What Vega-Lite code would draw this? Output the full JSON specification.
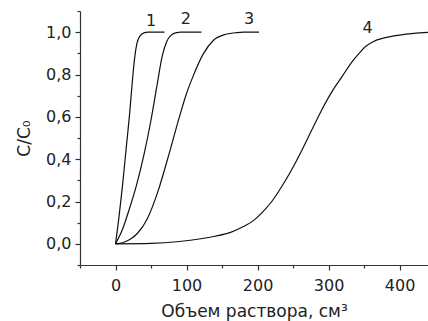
{
  "$schema": "https://vega.github.io/schema/vega-lite/v6.json",
  "width": 348,
  "height": 254,
  "autosize": "none",
  "padding": {"left": 80, "top": 11, "right": 0, "bottom": 56},
  "background": "white",
  "config": {
    "view": {"stroke": null},
    "font": "DejaVu Sans",
    "axis": {
      "domainColor": "#333333",
      "tickColor": "#333333",
      "labelColor": "#222222",
      "titleColor": "#222222",
      "labelFont": "DejaVu Sans",
      "titleFont": "DejaVu Sans",
      "labelFontSize": 16,
      "titleFontSize": 17,
      "titleFontWeight": "normal",
      "grid": false,
      "domainWidth": 1.2,
      "tickWidth": 1.2
    }
  },
  "datasets": {
    "curves": [
      {"s": "1", "v": 0, "c": 0},
      {"s": "1", "v": 5, "c": 0.13},
      {"s": "1", "v": 10, "c": 0.28},
      {"s": "1", "v": 15, "c": 0.45},
      {"s": "1", "v": 20, "c": 0.62},
      {"s": "1", "v": 24, "c": 0.78},
      {"s": "1", "v": 27, "c": 0.88},
      {"s": "1", "v": 30, "c": 0.945},
      {"s": "1", "v": 34, "c": 0.98},
      {"s": "1", "v": 40, "c": 0.997},
      {"s": "1", "v": 46, "c": 1.0},
      {"s": "1", "v": 69, "c": 1.0},
      {"s": "2", "v": 0, "c": 0},
      {"s": "2", "v": 10, "c": 0.07},
      {"s": "2", "v": 20, "c": 0.17},
      {"s": "2", "v": 29, "c": 0.27},
      {"s": "2", "v": 40, "c": 0.42},
      {"s": "2", "v": 50, "c": 0.585},
      {"s": "2", "v": 58, "c": 0.74},
      {"s": "2", "v": 66, "c": 0.89},
      {"s": "2", "v": 72, "c": 0.955},
      {"s": "2", "v": 78, "c": 0.985},
      {"s": "2", "v": 86, "c": 0.998},
      {"s": "2", "v": 92, "c": 1.0},
      {"s": "2", "v": 121, "c": 1.0},
      {"s": "3", "v": 0, "c": 0},
      {"s": "3", "v": 10, "c": 0.005},
      {"s": "3", "v": 20, "c": 0.02},
      {"s": "3", "v": 31, "c": 0.05},
      {"s": "3", "v": 45, "c": 0.12},
      {"s": "3", "v": 60, "c": 0.25},
      {"s": "3", "v": 75, "c": 0.42},
      {"s": "3", "v": 90, "c": 0.6},
      {"s": "3", "v": 100, "c": 0.71},
      {"s": "3", "v": 109, "c": 0.79},
      {"s": "3", "v": 124, "c": 0.9},
      {"s": "3", "v": 138, "c": 0.962},
      {"s": "3", "v": 155, "c": 0.99},
      {"s": "3", "v": 171, "c": 0.998},
      {"s": "3", "v": 180, "c": 1.0},
      {"s": "3", "v": 202, "c": 1.0},
      {"s": "4", "v": 0, "c": 0},
      {"s": "4", "v": 50, "c": 0.002},
      {"s": "4", "v": 90, "c": 0.011},
      {"s": "4", "v": 120, "c": 0.024},
      {"s": "4", "v": 140, "c": 0.036},
      {"s": "4", "v": 162, "c": 0.054},
      {"s": "4", "v": 178, "c": 0.078},
      {"s": "4", "v": 195, "c": 0.112},
      {"s": "4", "v": 207, "c": 0.15},
      {"s": "4", "v": 220, "c": 0.2},
      {"s": "4", "v": 233, "c": 0.265},
      {"s": "4", "v": 248, "c": 0.35},
      {"s": "4", "v": 262, "c": 0.44},
      {"s": "4", "v": 276, "c": 0.535},
      {"s": "4", "v": 290, "c": 0.63},
      {"s": "4", "v": 305, "c": 0.72},
      {"s": "4", "v": 319, "c": 0.79},
      {"s": "4", "v": 333, "c": 0.86},
      {"s": "4", "v": 343, "c": 0.9},
      {"s": "4", "v": 352, "c": 0.932},
      {"s": "4", "v": 362, "c": 0.954},
      {"s": "4", "v": 380, "c": 0.974},
      {"s": "4", "v": 400, "c": 0.986},
      {"s": "4", "v": 420, "c": 0.994},
      {"s": "4", "v": 445, "c": 1.0}
    ],
    "labels": [
      {"t": "1", "v": 50, "c": 1.055},
      {"t": "2", "v": 99, "c": 1.06},
      {"t": "3", "v": 188, "c": 1.06},
      {"t": "4", "v": 355, "c": 1.02}
    ]
  },
  "layer": [
    {
      "data": {"name": "curves"},
      "mark": {"type": "line", "interpolate": "monotone", "color": "#111111", "strokeWidth": 1.2, "clip": true},
      "encoding": {
        "x": {
          "field": "v", "type": "quantitative",
          "scale": {"domain": [-50, 440], "nice": false, "zero": false},
          "axis": {
            "values": [0, 100, 200, 300, 400],
            "tickSize": 5,
            "labelPadding": 7,
            "title": "Объем раствора, см³",
            "titlePadding": 10,
            "labelFlush": false
          }
        },
        "y": {
          "field": "c", "type": "quantitative",
          "scale": {"domain": [-0.1, 1.1], "nice": false, "zero": false},
          "axis": {
            "values": [0, 0.2, 0.4, 0.6, 0.8, 1.0],
            "labelExpr": "replace(format(datum.value, '.1f'), '.', ',')",
            "tickSize": 5,
            "labelPadding": 4,
            "title": "C/C₀",
            "titlePadding": 12,
            "labelFlush": false
          }
        },
        "detail": {"field": "s"}
      }
    },
    {
      "data": {"name": "labels"},
      "mark": {"type": "text", "font": "DejaVu Sans", "fontSize": 16, "color": "#222222", "baseline": "middle", "align": "center"},
      "encoding": {
        "x": {"field": "v", "type": "quantitative", "axis": null},
        "y": {"field": "c", "type": "quantitative", "axis": null},
        "text": {"field": "t"}
      }
    },
    {
      "data": {"name": "labels"},
      "mark": {"type": "point", "opacity": 0},
      "encoding": {
        "x": {
          "field": "v", "type": "quantitative",
          "axis": {
            "orient": "bottom",
            "values": [-50, 50, 150, 250, 350],
            "tickSize": 3,
            "labels": false,
            "domain": false,
            "title": null
          }
        },
        "y": {
          "field": "c", "type": "quantitative",
          "axis": {
            "orient": "left",
            "values": [-0.1, 0.1, 0.3, 0.5, 0.7, 0.9, 1.1],
            "tickSize": 3,
            "labels": false,
            "domain": false,
            "title": null
          }
        }
      }
    }
  ],
  "resolve": {"axis": {"x": "independent", "y": "independent"}}
}
